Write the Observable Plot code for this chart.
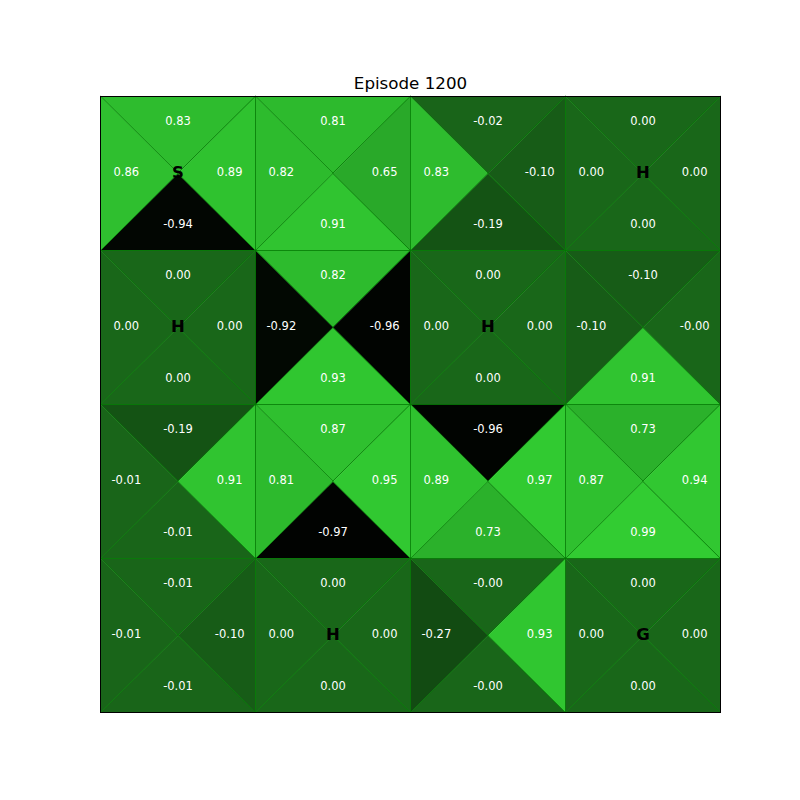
<!DOCTYPE html>
<html>
<head>
<meta charset="utf-8">
<script src="https://cdn.jsdelivr.net/npm/d3@7"></script>
<script src="https://cdn.jsdelivr.net/npm/@observablehq/plot@0.6"></script>
<style>
  body { margin: 0; background: #fff; }
</style>
</head>
<body>
<div id="chart"></div>
<script>
// Q-values per grid cell (row-major, 4x4), one array per action
const qUp    = [0.83, 0.81, -0.02, 0.00,   0.00, 0.82, 0.00, -0.10,   -0.19, 0.87, -0.96, 0.73,   -0.01, 0.00, -0.001, 0.00];
const qLeft  = [0.86, 0.82, 0.83, 0.00,    0.00, -0.92, 0.00, -0.10,  -0.01, 0.81, 0.89, 0.87,    -0.01, 0.00, -0.27, 0.00];
const qRight = [0.89, 0.65, -0.10, 0.00,   0.00, -0.96, 0.00, -0.001, 0.91, 0.95, 0.97, 0.94,     -0.10, 0.00, 0.93, 0.00];
const qDown  = [-0.94, 0.91, -0.19, 0.00,  0.00, 0.93, 0.00, 0.91,    -0.01, -0.97, 0.73, 0.99,   -0.01, 0.00, -0.001, 0.00];
const cellLabels = ["S", "", "", "H",  "H", "", "H", "",  "", "", "", "",  "", "H", "", "G"];
const nRows = 4, nCols = 4;
const titleText = "Episode 1200";

// Build triangles and label positions
const tri = [];
const labels = [];
const letters = [];
const actions = [
  {name: "up", q: qUp, verts: (c, r) => [[c, r], [c + 1, r], [c + .5, r + .5]], lab: (c, r) => [c + .5, r + 1/6]},
  {name: "down", q: qDown, verts: (c, r) => [[c, r + 1], [c + 1, r + 1], [c + .5, r + .5]], lab: (c, r) => [c + .5, r + 5/6]},
  {name: "left", q: qLeft, verts: (c, r) => [[c, r], [c, r + 1], [c + .5, r + .5]], lab: (c, r) => [c + 1/6, r + .5]},
  {name: "right", q: qRight, verts: (c, r) => [[c + 1, r], [c + 1, r + 1], [c + .5, r + .5]], lab: (c, r) => [c + 5/6, r + .5]}
];
for (let r = 0; r < nRows; r++) {
  for (let c = 0; c < nCols; c++) {
    const i = r * nCols + c;
    for (const a of actions) {
      const v = a.q[i];
      const id = `${i}-${a.name}`;
      for (const [x, y] of a.verts(c, r)) tri.push({id, x, y, v});
      const [lx, ly] = a.lab(c, r);
      labels.push({x: lx, y: ly, text: v.toFixed(2)});
    }
    if (cellLabels[i]) letters.push({x: c + .5, y: r + .5, text: cellLabels[i]});
  }
}

const chart = Plot.plot({
  width: 800,
  height: 800,
  marginTop: 96,
  marginBottom: 88,
  marginLeft: 100,
  marginRight: 80,
  style: {fontFamily: "DejaVu Sans, sans-serif", background: "#fff"},
  x: {domain: [0, nCols], axis: null},
  y: {domain: [0, nRows], reverse: true, axis: null},
  color: {type: "linear", domain: [-1, 1], range: ["#000000", "#32cd32"], interpolate: "rgb"},
  marks: [
    Plot.line(tri, {x: "x", y: "y", z: "id", fill: "v", stroke: "#007a00", strokeWidth: 0.7, curve: "linear-closed"}),
    Plot.text(labels, {x: "x", y: "y", text: "text", fill: "white", fontSize: 11.5, dy: -1}),
    Plot.text(letters, {x: "x", y: "y", text: "text", fill: "black", fontSize: 16.5, fontWeight: "bold", dy: -1}),
    Plot.frame({stroke: "black", strokeWidth: 1}),
    Plot.text([titleText], {frameAnchor: "top", lineAnchor: "middle", dy: -13, fontSize: 16.7, fill: "black"})
  ]
});
document.getElementById("chart").appendChild(chart);
</script>
</body>
</html>
